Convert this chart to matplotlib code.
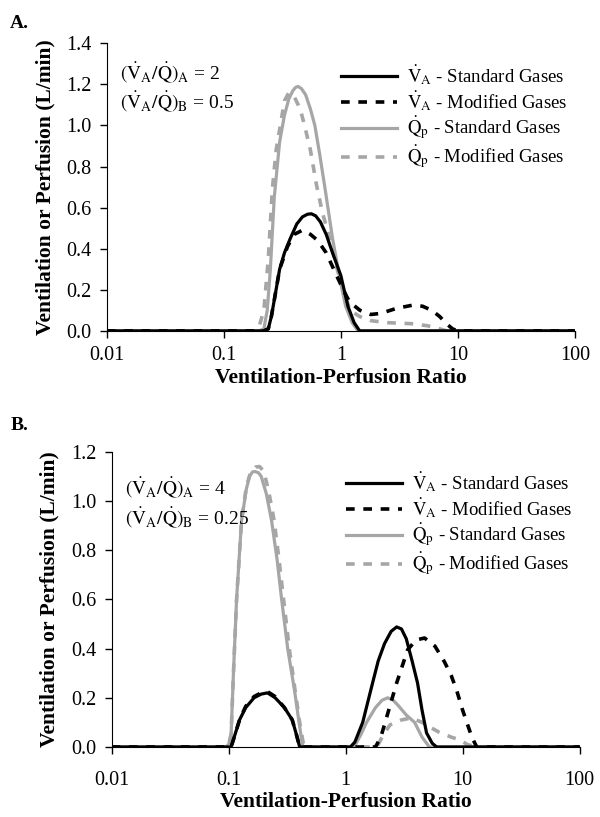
import matplotlib.pyplot as plt
import numpy as np

plt.rcParams['font.family'] = 'Liberation Serif'
plt.rcParams['mathtext.fontset'] = 'stix'

# Panel A (ratio, L/min)
a_va_std_x = [0.01, 0.22, 0.24, 0.255, 0.27, 0.3, 0.33, 0.37, 0.42, 0.47, 0.52, 0.56, 0.61, 0.67,
              0.75, 0.85, 1.0, 1.15, 1.3, 1.45, 100]
a_va_std_y = [0, 0, 0.01, 0.07, 0.15, 0.3, 0.38, 0.45, 0.52, 0.555, 0.568, 0.57, 0.56, 0.53,
              0.47, 0.38, 0.27, 0.12, 0.04, 0, 0]

a_va_mod_x = [0.01, 0.22, 0.24, 0.255, 0.27, 0.3, 0.35, 0.4, 0.47, 0.55, 0.635, 0.75, 0.92, 1.05,
              1.19, 1.46, 1.8, 2.2, 3.0, 4.1, 5.0, 6.0, 7.0, 8.0, 9.0, 10, 100]
a_va_mod_y = [0, 0, 0.01, 0.07, 0.15, 0.3, 0.41, 0.47, 0.49, 0.47, 0.44, 0.38, 0.27, 0.2,
              0.14, 0.1, 0.08, 0.085, 0.11, 0.125, 0.12, 0.1, 0.07, 0.035, 0.01, 0, 0]

a_qp_std_x = [0.01, 0.2, 0.22, 0.235, 0.25, 0.27, 0.3, 0.33, 0.36, 0.39, 0.41, 0.43, 0.46, 0.5,
              0.55, 0.6, 0.66, 0.73, 0.85, 1.0, 1.1, 1.25, 1.4, 100]
a_qp_std_y = [0, 0, 0.01, 0.1, 0.3, 0.65, 0.92, 1.05, 1.13, 1.17, 1.185, 1.19, 1.18, 1.15,
              1.08, 1.0, 0.86, 0.7, 0.45, 0.23, 0.12, 0.04, 0, 0]

a_qp_mod_x = [0.01, 0.18, 0.2, 0.22, 0.24, 0.26, 0.28, 0.3, 0.33, 0.36, 0.4, 0.45, 0.49, 0.55,
              0.62, 0.7, 0.77, 0.87, 0.98, 1.2, 1.45, 1.8, 2.5, 4.0, 5.5, 7.0, 8.0, 100]
a_qp_mod_y = [0, 0, 0.02, 0.1, 0.35, 0.69, 0.88, 0.98, 1.12, 1.16, 1.14, 1.08, 1.0, 0.88,
              0.71, 0.57, 0.49, 0.37, 0.25, 0.1, 0.07, 0.05, 0.04, 0.035, 0.025, 0.01, 0, 0]

# Panel B
b_va_std_x = [0.01, 0.105, 0.11, 0.124, 0.14, 0.165, 0.19, 0.215, 0.25, 0.3, 0.35, 0.38, 0.405,
              1.1, 1.2, 1.4, 1.7, 1.9, 2.15, 2.45, 2.73, 3.0, 3.3, 3.7, 4.12, 4.5, 4.92, 5.5, 6.0, 100]
b_va_std_y = [0, 0, 0.03, 0.11, 0.16, 0.2, 0.215, 0.22, 0.2, 0.16, 0.11, 0.05, 0,
              0, 0.02, 0.1, 0.26, 0.35, 0.42, 0.47, 0.488, 0.48, 0.44, 0.35, 0.26, 0.15, 0.057, 0.015, 0, 0]

b_va_mod_x = [0.01, 0.105, 0.11, 0.124, 0.14, 0.165, 0.19, 0.215, 0.25, 0.3, 0.35, 0.38, 0.405,
              1.8, 2.0, 2.24, 2.73, 3.39, 4.0, 4.73, 5.8, 7.0, 8.0, 8.9, 10, 10.9, 12, 13.2, 100]
b_va_mod_y = [0, 0, 0.03, 0.11, 0.165, 0.205, 0.22, 0.225, 0.205, 0.16, 0.11, 0.05, 0,
              0, 0.04, 0.12, 0.26, 0.395, 0.435, 0.443, 0.41, 0.346, 0.29, 0.23, 0.15, 0.098, 0.04, 0, 0]

b_qp_std_x = [0.01, 0.095, 0.1, 0.105, 0.11, 0.117, 0.129, 0.142, 0.151, 0.16, 0.167, 0.18, 0.19,
              0.21, 0.233, 0.26, 0.284, 0.32, 0.366, 0.4, 0.43,
              1.15, 1.2, 1.35, 1.51, 1.8, 2.05, 2.29, 2.55, 2.8, 3.3, 3.89, 4.5, 5.2, 100]
b_qp_std_y = [0, 0, 0.01, 0.05, 0.3, 0.6, 0.92, 1.05, 1.1, 1.118, 1.12, 1.115, 1.1,
              1.03, 0.92, 0.76, 0.6, 0.4, 0.23, 0.1, 0,
              0, 0.005, 0.05, 0.1, 0.16, 0.19, 0.2, 0.19, 0.17, 0.13, 0.1, 0.04, 0, 0]

b_qp_mod_x = [0.01, 0.095, 0.1, 0.105, 0.11, 0.117, 0.129, 0.142, 0.155, 0.17, 0.184, 0.2, 0.22,
              0.245, 0.27, 0.295, 0.33, 0.37, 0.405, 0.44,
              1.8, 1.9, 2.1, 2.4, 3.0, 3.66, 4.5, 5.3, 6.3, 8.0, 9.3, 11, 13, 100]
b_qp_mod_y = [0, 0, 0.01, 0.05, 0.3, 0.6, 0.92, 1.06, 1.12, 1.138, 1.14, 1.12, 1.04,
              0.92, 0.76, 0.6, 0.4, 0.23, 0.1, 0,
              0, 0.01, 0.05, 0.09, 0.11, 0.118, 0.1, 0.08, 0.06, 0.04, 0.03, 0.01, 0, 0]

xticks = [0.01, 0.1, 1, 10, 100]
xtick_labels = ['0.01', '0.1', '1', '10', '100']

gray = '#a6a6a6'
dash = (2.4, 2.4)

labels = [r'$\dot{\mathrm{V}}_\mathrm{A}$ - Standard Gases',
          r'$\dot{\mathrm{V}}_\mathrm{A}$ - Modified Gases',
          r'$\dot{\mathrm{Q}}_\mathrm{p}$ - Standard Gases',
          r'$\dot{\mathrm{Q}}_\mathrm{p}$ - Modified Gases']

fig = plt.figure(figsize=(6, 8.17), dpi=100)
ax_a = fig.add_axes([0.178, 0.595, 0.78, 0.352])
ax_b = fig.add_axes([0.186, 0.0857, 0.78, 0.3613])


def draw(ax, va_s, va_m, qp_s, qp_m, ymax, ratios, txt_y, leg_y, xpad):
    ax.plot(*va_s, color='black', lw=2.3, label=labels[0], zorder=4)
    ax.plot(*va_m, color='black', lw=2.6, ls=(0, dash), label=labels[1], zorder=5)
    ax.plot(*qp_s, color=gray, lw=2.3, label=labels[2], zorder=2)
    ax.plot(*qp_m, color=gray, lw=2.6, ls=(0, dash), label=labels[3], zorder=3)
    ax.set_xscale('log')
    ax.set_xlim(0.01, 100)
    ax.set_ylim(0, ymax)
    ax.set_xticks(xticks)
    ax.set_xticklabels(xtick_labels)
    ax.minorticks_off()
    ax.set_yticks(np.arange(0, ymax + 0.01, 0.2))
    ax.set_yticklabels(['%.1f' % v for v in np.arange(0, ymax + 0.01, 0.2)])
    ax.tick_params(labelsize=14.5, direction='out', length=5, width=1, pad=6)
    ax.tick_params(axis='x', pad=xpad)
    for s in ['top', 'right']:
        ax.spines[s].set_visible(False)
    ax.set_xlabel('Ventilation-Perfusion Ratio', fontsize=15.5, fontweight='bold', labelpad=2)
    ax.set_ylabel('Ventilation or Perfusion (L/min)', fontsize=15.5, fontweight='bold', labelpad=8)
    ax.text(0.028, txt_y, r'$(\dot{\mathrm{V}}_\mathrm{A}/\dot{\mathrm{Q}})_\mathrm{A}$ = ' + ratios[0],
            transform=ax.transAxes, fontsize=14)
    ax.text(0.028, txt_y - 0.1, r'$(\dot{\mathrm{V}}_\mathrm{A}/\dot{\mathrm{Q}})_\mathrm{B}$ = ' + ratios[1],
            transform=ax.transAxes, fontsize=14)
    ax.legend(loc='upper right', bbox_to_anchor=(1.02, leg_y), frameon=False, fontsize=13.5,
              handlelength=3.0, labelspacing=0.1, handletextpad=0.5)


draw(ax_a, (a_va_std_x, a_va_std_y), (a_va_mod_x, a_va_mod_y),
     (a_qp_std_x, a_qp_std_y), (a_qp_mod_x, a_qp_mod_y), 1.4, ('2', '0.5'), 0.875, 0.99, 6)
draw(ax_b, (b_va_std_x, b_va_std_y), (b_va_mod_x, b_va_mod_y),
     (b_qp_std_x, b_qp_std_y), (b_qp_mod_x, b_qp_mod_y), 1.2, ('4', '0.25'), 0.855, 0.995, 12)

fig.text(0.017, 0.966, 'A.', fontsize=14, fontweight='bold')
fig.text(0.017, 0.474, 'B.', fontsize=14, fontweight='bold')

fig.savefig('out.png', dpi=100)
